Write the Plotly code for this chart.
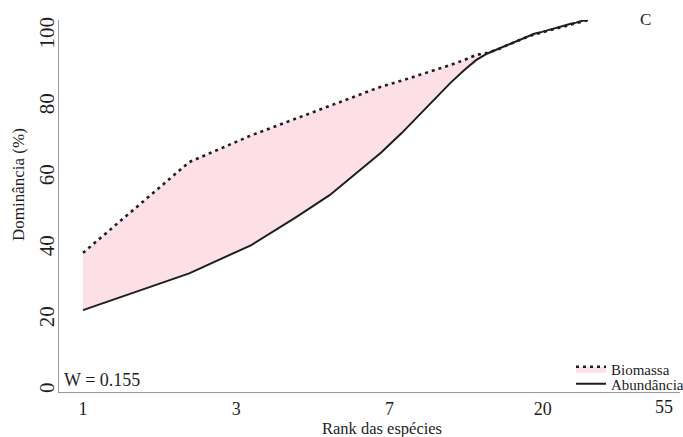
import math
import plotly.graph_objects as go

# Species rank (1..27) and cumulative dominance (%) for each rank
rank = list(range(1, 28))
abundancia = [22.0, 31.9, 39.5, 46.9, 52.9, 59.0, 64.4, 69.6, 74.6, 79.2,
              83.1, 86.4, 89.2, 91.0, 92.2, 93.4, 94.5, 95.5, 96.3, 96.8,
              97.4, 97.9, 98.4, 98.9, 99.3, 99.8, 100.0]
biomassa = [37.4, 61.8, 69.0, 73.5, 77.0, 79.9, 82.1, 83.7, 85.2, 86.6,
            87.9, 89.2, 90.6, 91.2, 92.1, 93.3, 94.4, 95.3, 96.1, 96.7,
            97.2, 97.7, 98.3, 98.8, 99.2, 99.7, 100.0]

# Rank axis ticks sit at e^0..e^4, labelled with rounded values
x_tick_text = ["1", "3", "7", "20", "55"]
x_tick_vals = [math.exp(k) for k in range(5)]
y_tick_vals = [0, 20, 40, 60, 80, 100]
w_stat = "W = 0.155"
panel = "C"

FONT = "Liberation Serif"
INK = "#1e1e1e"
AXIS = "#9a9a9a"
FILL = "#fde0e6"

W, H = 683, 437
L, R, T, B = 59, 3, 20, 45
pw, ph = W - L - R, H - T - B


def px(xp):
    return (xp - L) / pw


def py(yp):
    return (H - B - yp) / ph


fig = go.Figure()

fig.add_trace(go.Scatter(
    x=rank, y=abundancia, mode="lines", name="Abundância",
    line=dict(color=INK, width=2), legend="legend2", hoverinfo="skip"))
fig.add_trace(go.Scatter(
    x=rank, y=biomassa, mode="lines", name="Biomassa",
    line=dict(color=INK, width=2.6, dash="3px,4px"),
    fill="tonexty", fillcolor=FILL, legend="legend", hoverinfo="skip"))

legend_style = dict(
    xanchor="left", yanchor="middle",
    bgcolor="rgba(0,0,0,0)", borderwidth=0,
    font=dict(family=FONT, size=15, color=INK),
    itemwidth=30, traceorder="normal",
)

fig.update_layout(
    width=W, height=H,
    margin=dict(l=L, r=R, t=T, b=B, autoexpand=False),
    paper_bgcolor="white", plot_bgcolor="white",
    font=dict(family=FONT, size=17, color=INK),
    showlegend=True,
    legend=dict(x=px(571), y=py(369), **legend_style),
    legend2=dict(x=px(571), y=py(384), **legend_style),
    xaxis=dict(
        type="log",
        range=[math.log10(0.855), math.log10(49.2)],
        tickvals=x_tick_vals[:4], ticktext=x_tick_text[:4],
        showgrid=False, zeroline=False,
        showline=True, linecolor=AXIS, linewidth=1,
        ticks="", tickfont=dict(size=18),
    ),
    yaxis=dict(
        range=[0, 100], showgrid=False, zeroline=False,
        showline=True, linecolor=AXIS, linewidth=1,
        showticklabels=False, ticks="",
    ),
    yaxis2=dict(
        overlaying="y", side="left",
        range=[-0.28, 104.5],
        tickvals=y_tick_vals, ticks="",
        tickangle=-90, tickfont=dict(size=21),
        showgrid=False, zeroline=False, showline=False,
    ),
)

# Keep the label axis drawn alongside the data axis
fig.add_trace(go.Scatter(x=[1], y=[None], yaxis="y2", showlegend=False,
                         hoverinfo="skip", mode="lines"))

fig.add_annotation(text="55", xref="paper", yref="paper",
                   x=px(664), y=py(407), xanchor="center", yanchor="middle",
                   showarrow=False, font=dict(size=18))
fig.add_annotation(text="Rank das espécies", xref="paper", yref="paper",
                   x=px(382), y=py(428.5), xanchor="center", yanchor="middle",
                   showarrow=False, font=dict(size=16.5))
fig.add_annotation(text="Dominância (%)", xref="paper", yref="paper",
                   x=px(18), y=py(185), xanchor="center", yanchor="middle",
                   textangle=-90, showarrow=False, font=dict(size=17))
fig.add_annotation(text=w_stat, xref="paper", yref="paper",
                   x=px(62), y=py(380), xanchor="left", yanchor="middle",
                   showarrow=False, font=dict(size=18))
fig.add_annotation(text=panel, xref="paper", yref="paper",
                   x=px(645), y=py(19), xanchor="center", yanchor="middle",
                   showarrow=False, font=dict(size=17))

fig.write_html("out.html")
